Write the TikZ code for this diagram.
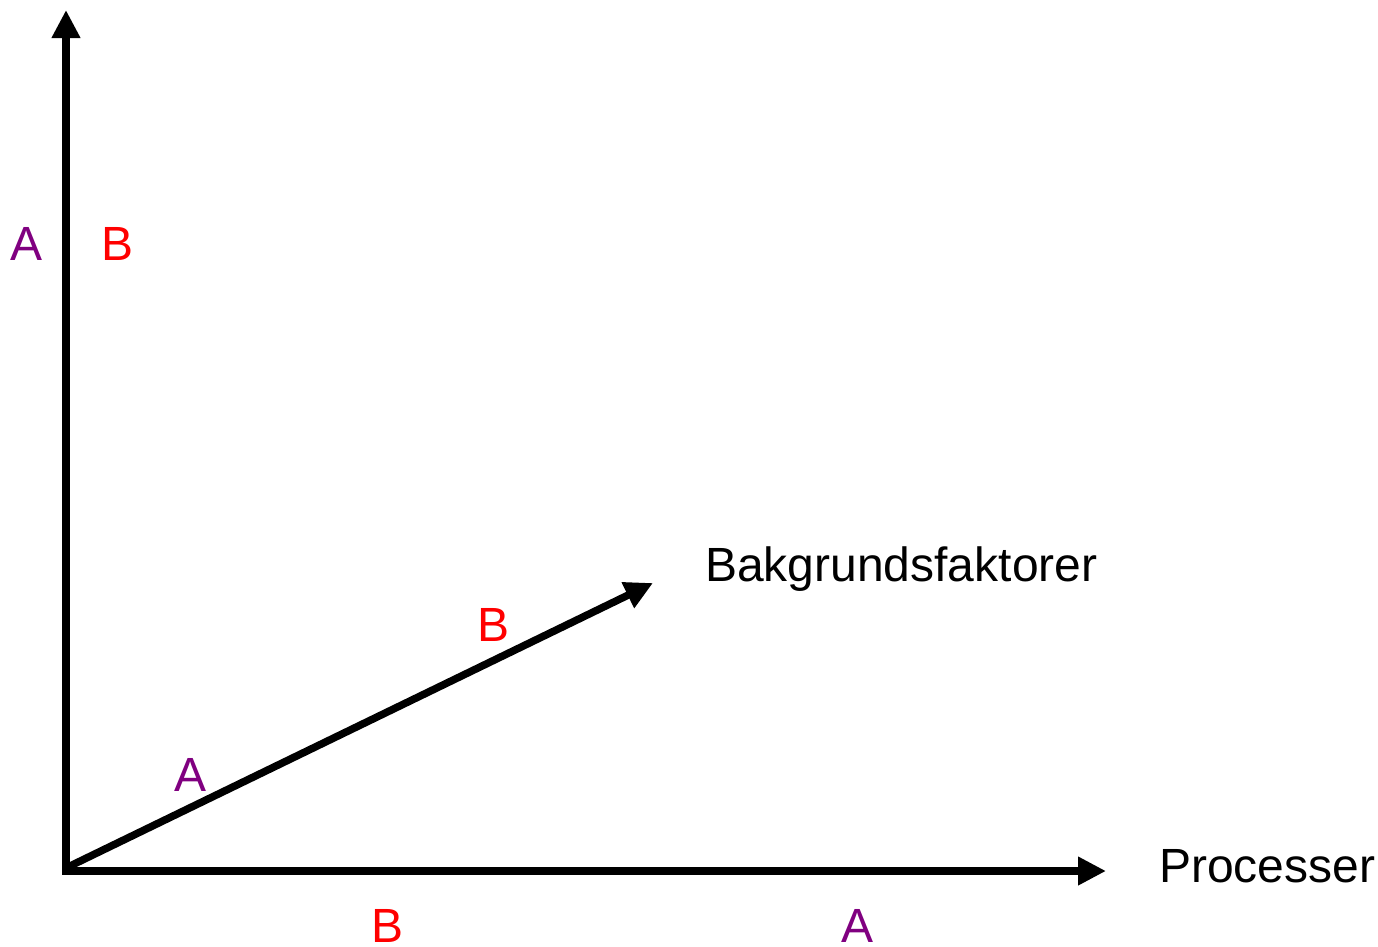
\documentclass[tikz,border=0pt]{standalone}
\usepackage{fontspec}
\setmainfont{Liberation Sans}
\usetikzlibrary{arrows.meta}
\definecolor{lblpurple}{HTML}{800080}
\definecolor{lblred}{HTML}{FF0000}
\begin{document}
\begin{tikzpicture}[x=1pt,y=-1pt,
  axis/.style={line width=7.5pt,-{Triangle[length=28pt,width=27pt]}},
  lbl/.style={font=\fontsize{48pt}{56pt}\selectfont,anchor=base,inner sep=0pt},
  pa/.style={lbl,text=lblpurple},
  pb/.style={lbl,text=lblred}]
\useasboundingbox (0,0) rectangle (1378,946);
\coordinate (O) at (66,870);
\coordinate (Otop) at (66,10);
\coordinate (Ox) at (62,871);
\coordinate (Xtip) at (1106,871);
\coordinate (Od) at (68,867);
\coordinate (Dtip) at (653,583);
\draw[axis] (O) -- (Otop);
\draw[axis] (Ox) -- (Xtip);
\draw[axis] (Od) -- (Dtip);
\node[pa] (a1) at (27,260) {A};
\node[pb] (b1) at (118,260) {B};
\node[pa] (a2) at (191,791) {A};
\node[pb] (b2) at (494,641) {B};
\node[pb] (b3) at (388,942) {B};
\node[pa] (a3) at (857,942) {A};
\node[lbl,anchor=base west] (bak) at (705,581) {Bakgrundsfaktorer};
\node[lbl,anchor=base west] (proc) at (1159,882) {Processer};
\end{tikzpicture}
\end{document}
